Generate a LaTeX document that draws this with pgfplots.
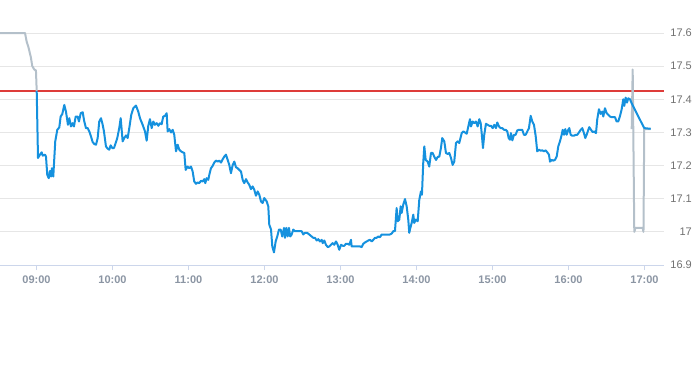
\documentclass[border=0pt]{standalone}
\usepackage{fontspec}
\setmainfont{Liberation Sans}
\usepackage{pgfplots}
\pgfplotsset{compat=1.18}
\definecolor{blueline}{HTML}{1591DE}
\definecolor{grayline}{HTML}{B4C0CA}
\definecolor{refred}{RGB}{222,60,58}
\definecolor{gridc}{HTML}{E6E6E6}
\definecolor{axisc}{HTML}{CCD6EB}
\definecolor{xlab}{HTML}{8B95A3}
\definecolor{ylab}{HTML}{707070}
\begin{document}
\begin{tikzpicture}
\useasboundingbox (0,-100bp) rectangle (693bp,265bp);
\begin{axis}[
  at={(0,0)}, anchor=south west,
  scale only axis, width=664bp, height=232bp,
  xmin=8.52, xmax=17.257, ymin=16.9, ymax=17.6,
  axis x line*=bottom, axis y line*=right,
  x axis line style={draw=axisc, line width=1bp, -},
  y axis line style={draw=none},
  xtick={9,10,11,12,13,14,15,16,17},
  xticklabels={09:00,10:00,11:00,12:00,13:00,14:00,15:00,16:00,17:00},
  ytick={16.9,17.0,17.1,17.2,17.3,17.4,17.5,17.6},
  ymajorgrids, grid style={draw=gridc, line width=1bp},
  tick align=outside, major tick length=5bp,
  xtick style={draw=axisc, line width=1bp},
  ytick style={draw=none},
  /pgf/number format/assume math mode=true,
  xticklabel style={font=\fontsize{11bp}{13bp}\selectfont\bfseries, text=xlab, anchor=north, inner sep=0pt, yshift=-6bp},
  yticklabel style={font=\fontsize{11bp}{13bp}\selectfont, text=ylab, anchor=east, inner sep=0pt, xshift=23bp},
  clip=false,
]
\addplot[color=refred, line width=1.1bp, no markers] coordinates {(8.52,17.425) (17.257,17.425)};
\addplot[draw=grayline, line width=2bp, line join=round, no markers] coordinates {
(8.520,17.600) (8.849,17.600) (8.871,17.574) (8.892,17.559) (8.924,17.529) (8.945,17.500) (8.971,17.490) (8.993,17.487) (9.003,17.425)
};
\addplot[draw=grayline, line width=2bp, line join=round, no markers] coordinates {
(16.832,17.31) (16.845,17.49) (16.866,17.00) (16.882,17.012) (16.976,17.012) (16.987,17.00) (16.997,17.31) (17.082,17.31)
};
\addplot[draw=blueline, line width=2bp, line join=round, no markers] coordinates {
(9.003,17.425) (9.020,17.223) (9.046,17.233) (9.068,17.240) (9.082,17.230) (9.112,17.233) (9.125,17.227)
(9.142,17.172) (9.161,17.162) (9.178,17.184) (9.191,17.167) (9.204,17.192) (9.221,17.167) (9.247,17.273)
(9.274,17.308) (9.300,17.315) (9.318,17.348) (9.339,17.355) (9.366,17.383) (9.388,17.363) (9.414,17.323)
(9.432,17.343) (9.454,17.318) (9.476,17.328) (9.493,17.318) (9.516,17.348) (9.542,17.348) (9.559,17.333)
(9.582,17.358) (9.608,17.361) (9.629,17.333) (9.651,17.313) (9.674,17.313) (9.695,17.303) (9.717,17.288)
(9.739,17.271) (9.761,17.265) (9.783,17.263) (9.805,17.283) (9.826,17.333) (9.849,17.343) (9.871,17.323)
(9.888,17.303) (9.914,17.258) (9.937,17.251) (9.958,17.248) (9.976,17.261) (9.997,17.253) (10.020,17.253)
(10.042,17.268) (10.063,17.283) (10.089,17.313) (10.108,17.343) (10.134,17.273) (10.155,17.283) (10.178,17.291)
(10.200,17.283) (10.221,17.313) (10.247,17.353) (10.274,17.373) (10.309,17.381) (10.339,17.363) (10.362,17.343)
(10.397,17.323) (10.428,17.303) (10.450,17.275) (10.471,17.320) (10.493,17.340) (10.516,17.313) (10.537,17.333)
(10.559,17.323) (10.582,17.328) (10.603,17.320) (10.625,17.328) (10.647,17.325) (10.668,17.348) (10.691,17.350)
(10.713,17.358) (10.726,17.303) (10.747,17.310) (10.770,17.300) (10.792,17.308) (10.813,17.293) (10.836,17.243)
(10.858,17.263) (10.879,17.248) (10.901,17.243) (10.924,17.240) (10.945,17.238) (10.963,17.187) (10.989,17.197)
(11.011,17.192) (11.033,17.197) (11.055,17.182) (11.076,17.152) (11.099,17.145) (11.121,17.149) (11.142,17.147)
(11.164,17.154) (11.187,17.152) (11.208,17.159) (11.221,17.147) (11.239,17.162) (11.261,17.157) (11.274,17.172)
(11.296,17.192) (11.318,17.199) (11.339,17.209) (11.362,17.215) (11.384,17.212) (11.405,17.215) (11.428,17.209)
(11.450,17.219) (11.471,17.227) (11.493,17.233) (11.516,17.217) (11.537,17.202) (11.559,17.177) (11.582,17.202)
(11.603,17.212) (11.625,17.195) (11.647,17.192) (11.668,17.187) (11.691,17.182) (11.713,17.157) (11.734,17.147)
(11.757,17.159) (11.779,17.149) (11.800,17.142) (11.822,17.129) (11.845,17.137) (11.866,17.127) (11.888,17.109)
(11.911,17.122) (11.932,17.112) (11.954,17.092) (11.976,17.087) (11.997,17.102) (12.029,17.092) (12.050,17.077)
(12.063,17.022) (12.086,17.007) (12.103,16.956) (12.125,16.938) (12.147,16.971) (12.168,16.986) (12.191,17.007)
(12.213,17.007) (12.234,16.986) (12.257,17.012) (12.270,16.982) (12.287,17.012) (12.305,16.986) (12.322,17.012)
(12.339,16.986) (12.358,16.992) (12.379,17.007) (12.401,17.002) (12.445,17.002) (12.489,17.002) (12.511,16.992)
(12.533,16.997) (12.563,16.997) (12.589,16.992) (12.621,16.986) (12.642,16.982) (12.664,16.982) (12.687,16.974)
(12.708,16.978) (12.730,16.971) (12.753,16.976) (12.766,16.966) (12.787,16.974) (12.809,16.961) (12.832,16.954)
(12.853,16.956) (12.875,16.961) (12.897,16.966) (12.918,16.961) (12.941,16.971) (12.963,16.961) (12.984,16.946)
(13.007,16.961) (13.029,16.958) (13.050,16.958) (13.072,16.964) (13.095,16.964) (13.116,16.961) (13.138,16.976)
(13.147,16.956) (13.168,16.956) (13.213,16.956) (13.257,16.956) (13.279,16.954) (13.300,16.964) (13.322,16.968)
(13.345,16.971) (13.366,16.974) (13.388,16.976) (13.411,16.971) (13.432,16.976) (13.454,16.982) (13.476,16.982)
(13.497,16.986) (13.520,16.984) (13.542,16.992) (13.651,16.992) (13.674,16.995) (13.695,17.002) (13.717,17.002)
(13.739,17.072) (13.753,17.032) (13.774,17.037) (13.792,17.077) (13.805,17.057) (13.826,17.082) (13.849,17.099)
(13.871,17.077) (13.892,17.037) (13.905,16.997) (13.914,17.007) (13.937,17.027) (13.958,17.052) (13.971,17.027)
(13.993,17.037) (14.016,17.032) (14.037,17.097) (14.059,17.122) (14.072,17.112) (14.089,17.208) (14.103,17.258)
(14.121,17.217) (14.147,17.212) (14.168,17.197) (14.191,17.238) (14.213,17.238) (14.234,17.227) (14.257,17.217)
(14.279,17.226) (14.300,17.227) (14.322,17.253) (14.339,17.283) (14.366,17.273) (14.388,17.238) (14.411,17.235)
(14.432,17.238) (14.454,17.223) (14.476,17.202) (14.497,17.212) (14.520,17.268) (14.542,17.273) (14.563,17.268)
(14.595,17.298) (14.616,17.303) (14.638,17.300) (14.661,17.296) (14.682,17.318) (14.704,17.340) (14.717,17.318)
(14.739,17.333) (14.761,17.328) (14.783,17.333) (14.805,17.318) (14.826,17.340) (14.845,17.328) (14.858,17.298)
(14.875,17.253) (14.892,17.293) (14.914,17.326) (14.937,17.323) (14.958,17.320) (14.980,17.320) (15.003,17.313)
(15.024,17.323) (15.046,17.313) (15.063,17.330) (15.086,17.318) (15.108,17.313) (15.129,17.313) (15.151,17.308)
(15.174,17.308) (15.195,17.303) (15.213,17.283) (15.230,17.278) (15.243,17.298) (15.261,17.276) (15.283,17.293)
(15.305,17.293) (15.326,17.306) (15.349,17.308) (15.392,17.308) (15.414,17.293) (15.437,17.293) (15.458,17.303)
(15.480,17.313) (15.503,17.350) (15.524,17.333) (15.546,17.323) (15.568,17.290) (15.589,17.243) (15.612,17.248)
(15.634,17.245) (15.655,17.246) (15.678,17.243) (15.700,17.246) (15.721,17.240) (15.743,17.233) (15.757,17.212)
(15.779,17.217) (15.800,17.215) (15.822,17.217) (15.845,17.227) (15.866,17.258) (15.888,17.273) (15.911,17.293)
(15.924,17.308) (15.941,17.293) (15.958,17.310) (15.976,17.293) (15.997,17.308) (16.011,17.313) (16.029,17.293)
(16.050,17.290) (16.072,17.290) (16.095,17.293) (16.116,17.293) (16.138,17.300) (16.161,17.308) (16.182,17.313)
(16.204,17.298) (16.221,17.283) (16.239,17.293) (16.261,17.308) (16.274,17.316) (16.296,17.308) (16.318,17.301)
(16.339,17.303) (16.362,17.298) (16.379,17.340) (16.401,17.370) (16.424,17.356) (16.445,17.363) (16.458,17.348)
(16.480,17.373) (16.503,17.358) (16.524,17.353) (16.546,17.348) (16.568,17.346) (16.612,17.346) (16.634,17.333)
(16.655,17.333) (16.676,17.348) (16.700,17.370) (16.721,17.400) (16.734,17.380) (16.753,17.405) (16.770,17.390)
(16.787,17.403) (16.809,17.400) (16.832,17.388) (16.853,17.378) (16.875,17.368) (16.997,17.313) (17.082,17.311)
};
\end{axis}
\end{tikzpicture}
\end{document}
